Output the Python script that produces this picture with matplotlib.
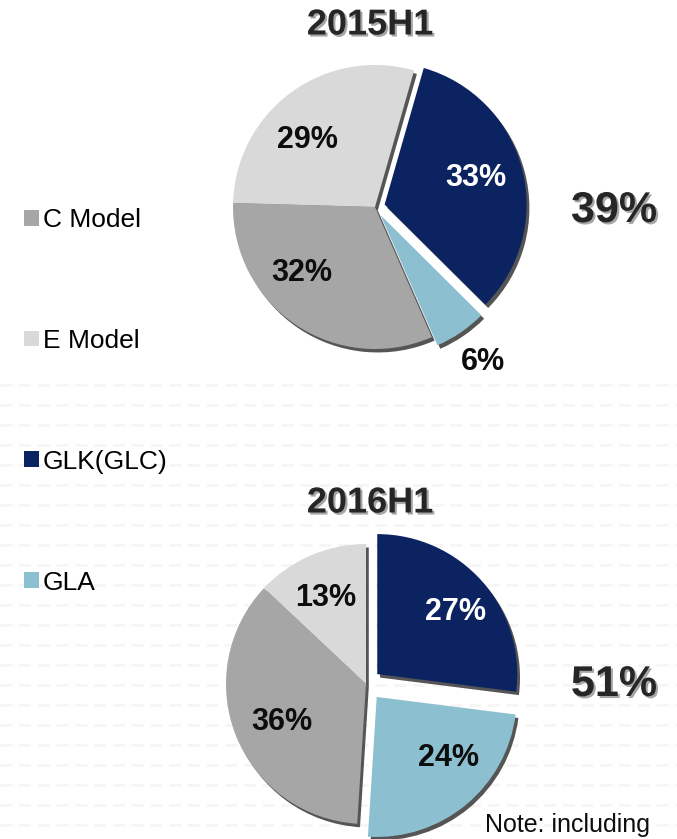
import numpy as np
import matplotlib
matplotlib.use("Agg")
import matplotlib.pyplot as plt
import matplotlib.patheffects as pe
from matplotlib.patches import Patch, Wedge

plt.rcParams['font.family'] = ['Liberation Sans', 'DejaVu Sans']
plt.rcParams['lines.scale_dashes'] = False

# ---- data ----
categories = ["GLK(GLC)", "GLA", "C Model", "E Model"]
legend_order = ["C Model", "E Model", "GLK(GLC)", "GLA"]
colors = {"C Model": "#A6A6A6", "E Model": "#D9D9D9",
          "GLK(GLC)": "#0B2361", "GLA": "#8CC0D0"}
titles = ["2015H1", "2016H1"]
share_2015 = [33, 6, 32, 29]
share_2016 = [27, 24, 36, 13]
note_text = "Note: including"

W, H = 677, 839
fig = plt.figure(figsize=(W / 100, H / 100), dpi=100)
ax = fig.add_axes([0, 0, 1, 1])


def Y(p):
    return H - p


# faint dashed background pattern (lower half)
for yy in np.arange(385, H, 20):
    ax.plot([0, W], [Y(yy), Y(yy)], color="#f6f6f6", lw=2.0,
            dashes=(8.5, 5), zorder=0)

shadow_only = [pe.SimplePatchShadow(offset=(2, -2.5), shadow_rgbFace="#2a2a2a", alpha=0.8)]
tshadow = [pe.withSimplePatchShadow(offset=(1.5, -1.5), shadow_rgbFace="#000000", alpha=0.35)]

pies = [
    dict(vals=share_2015, title=titles[0], center=(375, Y(207)), r=142, start=74,
         explode=[0.07, 0.07, 0, 0], title_y=25, big_y=211,
         lab=[(0.67, 1.6), (1.26, 0.5), (0.69, -14), (0.67, 9)]),
    dict(vals=share_2016, title=titles[1], center=(366, Y(684)), r=140, start=90,
         explode=[0.107, 0.12, 0, 0], title_y=503, big_y=685,
         lab=[(0.71, -3), (0.675, 10), (0.66, 2.7), (0.68, 1.6)]),
]

for p in pies:
    wedges, _ = ax.pie(p["vals"], colors=[colors[c] for c in categories],
                       startangle=p["start"], counterclock=False,
                       explode=[e * p["r"] for e in p["explode"]],
                       center=p["center"], radius=p["r"],
                       wedgeprops=dict(linewidth=0), frame=True)
    for w, v, (frac, da), cat in zip(wedges, p["vals"], p["lab"], categories):
        w.set_zorder(2)
        sh = Wedge(w.center, w.r, w.theta1, w.theta2, edgecolor="none", zorder=1)
        sh.set_facecolor(w.get_facecolor())
        sh.set_path_effects(shadow_only)
        ax.add_patch(sh)
        mid = np.deg2rad((w.theta1 + w.theta2) / 2 + da)
        cx, cy = w.center
        x = cx + frac * w.r * np.cos(mid)
        y = cy + frac * w.r * np.sin(mid)
        col = "white" if cat == "GLK(GLC)" else "#0d0d0d"
        ax.text(x, y, f"{v}%", ha="center", va="center", fontsize=22,
                fontweight="bold", color=col, zorder=5)
    ax.text(370, Y(p["title_y"]), p["title"], ha="center", va="center",
            fontsize=26, fontweight="bold", color="#262626",
            path_effects=tshadow, zorder=5)
    total = p["vals"][0] + p["vals"][1]
    ax.text(614, Y(p["big_y"]), f"{total}%", ha="center", va="center",
            fontsize=31, fontweight="bold", color="#262626",
            path_effects=tshadow, zorder=5)

ax.text(485, Y(837), note_text, ha="left", va="bottom", fontsize=18, color="#0d0d0d")

handles = [Patch(facecolor=colors[c], edgecolor="none", label=c) for c in legend_order]
leg = ax.legend(handles=handles, loc="upper left", bbox_to_anchor=(24 / W, 1 - 208 / H),
                bbox_transform=ax.transAxes, frameon=False, fontsize=19,
                handlelength=0.55, handleheight=0.55, handletextpad=0.17,
                labelspacing=3.67, borderpad=0, borderaxespad=0)

ax.set_xlim(0, W)
ax.set_ylim(0, H)
ax.set_aspect("auto")
ax.axis("off")
fig.savefig("out.png", dpi=100, facecolor="white")
